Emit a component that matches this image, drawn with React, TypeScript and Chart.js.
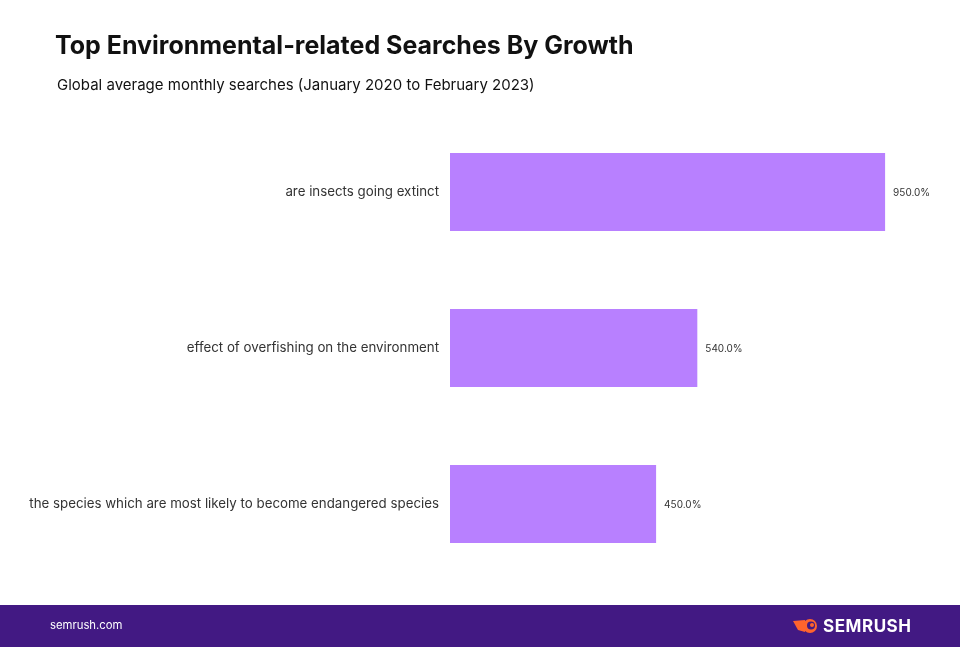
import React, { useEffect, useRef } from "react";
import { Chart, registerables } from "chart.js";

Chart.register(...registerables);

const categories: string[] = [
  "are insects going extinct",
  "effect of overfishing on the environment",
  "the species which are most likely to become endangered species",
];
const growthValues: number[] = [950, 540, 450];
const titleText = "Top Environmental-related Searches By Growth";
const subtitleText = "Global average monthly searches (January 2020 to February 2023)";
const footerLeft = "semrush.com";
const footerBrand = "SEMRUSH";

const BAR = "#B880FF";
const FOOTER = "#421983";
const ORANGE = "#FF642D";

const decor = {
  id: "decor",
  afterDraw(chart: any) {
    const ctx = chart.ctx as CanvasRenderingContext2D;
    const W = chart.width;
    const H = chart.height;
    ctx.save();
    // title
    ctx.fillStyle = "#111111";
    ctx.textBaseline = "alphabetic";
    ctx.textAlign = "left";
    ctx.font = "bold 25px Inter, 'Noto Sans', sans-serif";
    ctx.fillText(titleText, 55, 54);
    ctx.font = "15px Inter, 'Noto Sans', sans-serif";
    ctx.fillText(subtitleText, 57, 90);

    // data labels
    const meta = chart.getDatasetMeta(0);
    ctx.font = "10px Inter, 'Noto Sans', sans-serif";
    ctx.fillStyle = "#333333";
    ctx.textBaseline = "middle";
    meta.data.forEach((bar: any, i: number) => {
      ctx.fillText(growthValues[i].toFixed(1) + "%", bar.x + 8, bar.y + 1);
    });

    // footer
    ctx.fillStyle = FOOTER;
    ctx.fillRect(0, 605, W, H - 605);
    ctx.fillStyle = "#ffffff";
    ctx.font = "11.3px Inter, 'Noto Sans', sans-serif";
    ctx.textBaseline = "middle";
    ctx.fillText(footerLeft, 50, 626);
    ctx.font = "bold 17px Inter, 'Noto Sans', sans-serif";
    const bw = ctx.measureText(footerBrand).width;
    const sp = (88 - bw) / (footerBrand.length - 1);
    let x = 823;
    for (const ch of footerBrand) {
      ctx.fillText(ch, x, 627);
      x += ctx.measureText(ch).width + sp;
    }
    // logo icon
    ctx.fillStyle = ORANGE;
    ctx.beginPath();
    ctx.arc(810, 626, 7, 0, Math.PI * 2);
    ctx.fill();
    ctx.beginPath();
    ctx.moveTo(793, 621);
    ctx.lineTo(805, 620);
    ctx.lineTo(805, 632);
    ctx.lineTo(798, 630);
    ctx.closePath();
    ctx.fill();
    ctx.fillStyle = FOOTER;
    ctx.beginPath();
    ctx.arc(811, 625.5, 4, 0, Math.PI * 2);
    ctx.fill();
    ctx.fillStyle = ORANGE;
    ctx.beginPath();
    ctx.arc(812, 625, 2, 0, Math.PI * 2);
    ctx.fill();
    ctx.restore();
  },
};

export default function App() {
  const ref = useRef<HTMLCanvasElement | null>(null);
  useEffect(() => {
    if (!ref.current) return;
    const chart = new Chart(ref.current, {
      type: "bar",
      data: {
        labels: categories,
        datasets: [
          {
            data: growthValues,
            backgroundColor: BAR,
            borderWidth: 0,
            categoryPercentage: 0.5,
            barPercentage: 1,
          },
        ],
      },
      options: {
        indexAxis: "y",
        animation: false,
        responsive: false,
        maintainAspectRatio: false,
        layout: { padding: { left: 0, right: 52, top: 114, bottom: 65 } },
        plugins: {
          legend: { display: false },
          tooltip: { enabled: false },
          title: { display: false },
        },
        scales: {
          x: { display: false, min: 0, max: 1000 },
          y: {
            grid: { display: false },
            border: { display: false },
            ticks: {
              color: "#333333",
              padding: 3,
              font: { family: "Inter, 'Noto Sans', sans-serif", size: 13.3 },
            },
            afterFit: (s: any) => {
              s.width = 450;
            },
          },
        },
      },
      plugins: [decor],
    });
    return () => chart.destroy();
  }, []);
  return (
    <div style={{ position: "fixed", left: 0, top: 0, width: 960, height: 647, background: "#fff" }}>
      <canvas ref={ref} width={960} height={647} style={{ width: 960, height: 647, display: "block" }} />
    </div>
  );
}
